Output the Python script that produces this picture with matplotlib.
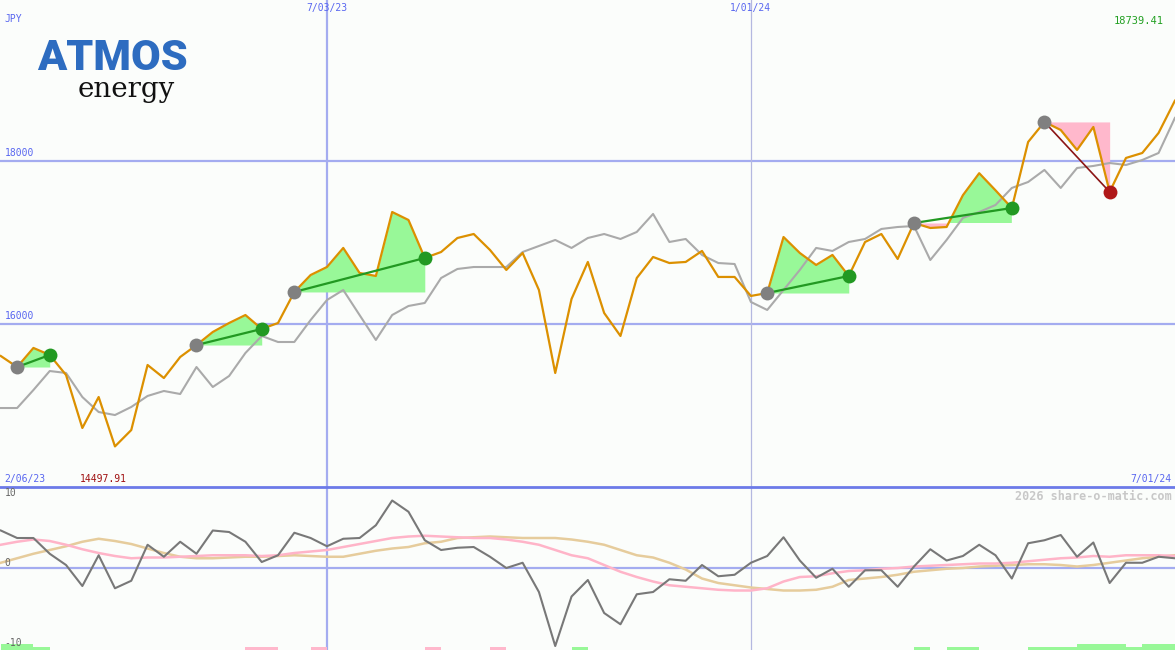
import numpy as np
import pandas as pd
import matplotlib
matplotlib.use('Agg')
import matplotlib.pyplot as plt
import matplotlib.dates as mdates


# weekly closes, Mondays
weeks = pd.date_range('2023-02-13', periods=73, freq='7D')

price = [15607, 15472, 15706, 15620, 15374, 14724, 15104, 14498, 14699, 15497,
         15337, 15595, 15742, 15902, 16012, 16110, 15939, 16012, 16393, 16601,
         16699, 16933, 16626, 16589, 17374, 17276, 16810, 16883, 17055, 17104,
         16908, 16663, 16871, 16417, 15399, 16307, 16761, 16135, 15853, 16564,
         16822, 16748, 16761, 16896, 16577, 16577, 16344, 16380, 17067, 16871,
         16724, 16847, 16589, 17006, 17104, 16798, 17239, 17178, 17190, 17580,
         17850, 17640, 17423, 18233, 18479, 18380, 18135, 18417, 17620, 18037,
         18098, 18344, 18739]

avg = [14969, 14969, 15190, 15423, 15399, 15104, 14920, 14883, 14982, 15117,
       15178, 15141, 15472, 15227, 15362, 15644, 15853, 15779, 15779, 16049,
       16294, 16417, 16110, 15804, 16110, 16221, 16258, 16564, 16675, 16699,
       16699, 16699, 16883, 16957, 17031, 16933, 17055, 17104, 17043, 17129,
       17350, 17006, 17043, 16847, 16748, 16736, 16270, 16172, 16417, 16663,
       16933, 16896, 17006, 17043, 17166, 17190, 17202, 16785, 17031, 17301,
       17374, 17460, 17669, 17742, 17890, 17669, 17914, 17939, 17975, 17951,
       18012, 18098, 18528]

osc = [5.0, 4.0, 4.0, 1.9, 0.4, -2.4, 1.7, -2.7, -1.7, 3.1,
       1.5, 3.5, 1.9, 5.0, 4.8, 3.5, 0.8, 1.7, 4.7, 4.0,
       2.9, 3.9, 4.0, 5.7, 9.0, 7.5, 3.7, 2.4, 2.7, 2.8,
       1.5, 0.0, 0.7, -3.2, -10.4, -3.8, -1.6, -6.0, -7.5, -3.5,
       -3.2, -1.5, -1.7, 0.4, -1.1, -0.9, 0.7, 1.6, 4.1, 1.0,
       -1.3, -0.1, -2.5, -0.3, -0.3, -2.5, 0.2, 2.5, 1.0, 1.6,
       3.1, 1.7, -1.4, 3.3, 3.7, 4.4, 1.5, 3.4, -2.0, 0.7,
       0.7, 1.5, 1.3]

osc_fast = [3.1, 3.5, 3.8, 3.6, 3.1, 2.5, 2.0, 1.6, 1.3, 1.4,
            1.4, 1.5, 1.6, 1.7, 1.7, 1.7, 1.6, 1.7, 2.0, 2.2,
            2.4, 2.8, 3.2, 3.6, 4.0, 4.2, 4.3, 4.2, 4.1, 4.0,
            4.0, 3.8, 3.5, 3.1, 2.4, 1.7, 1.3, 0.4, -0.5, -1.2,
            -1.8, -2.3, -2.5, -2.7, -2.9, -3.0, -3.0, -2.7, -1.8, -1.2,
            -1.1, -0.7, -0.4, -0.3, -0.1, 0.0, 0.2, 0.3, 0.4, 0.5,
            0.6, 0.6, 0.7, 0.9, 1.1, 1.3, 1.4, 1.6, 1.5, 1.7,
            1.7, 1.7, 1.6]

osc_slow = [0.7, 1.3, 1.9, 2.4, 2.9, 3.5, 3.9, 3.6, 3.2, 2.6,
            2.0, 1.5, 1.3, 1.3, 1.4, 1.5, 1.5, 1.6, 1.7, 1.6,
            1.5, 1.5, 1.9, 2.3, 2.6, 2.8, 3.3, 3.5, 4.0, 4.1,
            4.2, 4.1, 4.0, 4.0, 4.0, 3.8, 3.5, 3.1, 2.4, 1.7,
            1.4, 0.7, -0.2, -1.4, -2.0, -2.3, -2.6, -2.8, -3.0, -3.0,
            -2.9, -2.5, -1.6, -1.4, -1.2, -0.9, -0.5, -0.3, -0.1, 0.0,
            0.2, 0.3, 0.4, 0.5, 0.5, 0.4, 0.2, 0.4, 0.7, 1.0,
            1.3, 1.5, 1.7]

# trend signals: (start week, end week)
signals = [(1, 3), (12, 16), (18, 26), (47, 52), (56, 62), (64, 68)]

# small bars along the bottom: + green, - pink
bar_idx = [0, 1, 2, 15, 16, 19, 26, 30, 35, 56, 58, 59, 63, 64, 65, 66, 67, 68, 69, 70, 71]
bar_level = [2, 2, 1, -1, -1, -1, -1, -1, 1, 1, 1, 1, 1, 1, 1, 2, 2, 2, 1, 2, 2]

date_ticks = ['2023-07-03', '2024-01-01']
date_labels = ['7/03/23', '1/01/24']
price_ticks = [16000, 18000]
osc_ticks = [-10, 0, 10]

bg = '#fbfdfb'
grid = '#a4acf0'
blue_txt = '#5866f0'
mono = 'DejaVu Sans Mono'

x = mdates.date2num(weeks)
price = np.array(price, dtype=float)

fig = plt.figure(figsize=(11.75, 6.5), dpi=100, facecolor=bg)
ax = fig.add_axes([0, 163 / 650, 1, 487 / 650])
ax2 = fig.add_axes([0, 0, 1, 163 / 650])

for a in (ax, ax2):
    a.set_facecolor(bg)
    a.set_xlim(x[0] - 0.35, x[-1] + 0.05)
    a.set_xticks([])
    a.set_yticks([])
    for s in a.spines.values():
        s.set_visible(False)

ax.set_ylim(14000, 19975)
ax2.set_ylim(-10.93, 10.8)
ax2.spines['top'].set_visible(True)
ax2.spines['top'].set_color('#6c7ae8')
ax2.spines['top'].set_linewidth(2)

# grid
for v in price_ticks:
    ax.axhline(v, color=grid, lw=1.6, zorder=1)
    ax.text(0.004, v + 40, str(v), transform=ax.get_yaxis_transform(),
            fontsize=7, family=mono, color=blue_txt, va='bottom', ha='left')
ax2.axhline(0, color=grid, lw=1.6, zorder=1)

vl_width = [1.6, 0.9]
vl_color = [grid, '#b4b8e0']
for d, lab, w, c in zip(date_ticks, date_labels, vl_width, vl_color):
    dn = mdates.date2num(pd.Timestamp(d))
    ax.axvline(dn, color=c, lw=w, zorder=1)
    ax2.axvline(dn, color=c, lw=w, zorder=1)
    ax.text(dn, 1 - 8 / 487, lab, transform=ax.get_xaxis_transform(),
            fontsize=7, family=mono, color=blue_txt, ha='center', va='center')

# signal fills
for s, e in signals:
    xs = x[s:e + 1]
    ys = price[s:e + 1]
    base = price[s]
    ax.fill_between(xs, ys, base, where=ys >= base, interpolate=True,
                    color='#98f898', lw=0, zorder=2)
    ax.fill_between(xs, ys, base, where=ys <= base, interpolate=True,
                    color='#ffb8cc', lw=0, zorder=2)

ax.plot(x, avg, color='#aaaaaa', lw=1.5, zorder=3)
ax.plot(x, price, color='#dc9000', lw=1.6, zorder=4)

for s, e in signals:
    up = price[e] > price[s]
    lc = '#229922' if up else '#8b1515'
    dc = '#229922' if up else '#b01818'
    ax.plot([x[s], x[e]], [price[s], price[e]], color=lc, lw=1.6 if up else 1.2, zorder=5)
    ax.plot(x[s], price[s], 'o', color='#808080', ms=10, mec='none', zorder=6)
    ax.plot(x[e], price[e], 'o', color=dc, ms=10, mec='none', zorder=6)

# top panel labels
ax.text(0.004, 1 - 19 / 487, 'JPY', transform=ax.transAxes, fontsize=7,
        family=mono, color=blue_txt, va='center', ha='left')
ax.text(0.99, 1 - 21 / 487, '%.2f' % 18739.41, transform=ax.transAxes, fontsize=7.5,
        family=mono, color='#22a022', va='center', ha='right')
ax.text(0.004, 8 / 487, '2/06/23', transform=ax.transAxes, fontsize=7,
        family=mono, color=blue_txt, va='center', ha='left')
ax.text(80 / 1175, 8 / 487, '%.2f' % 14497.91, transform=ax.transAxes, fontsize=7,
        family=mono, color='#a01010', va='center', ha='left')
ax.text(0.997, 8 / 487, '7/01/24', transform=ax.transAxes, fontsize=7,
        family=mono, color=blue_txt, va='center', ha='right')

# logo
ax.text(37 / 1175, 1 - 70 / 487, 'ATMOS', transform=ax.transAxes, fontsize=31,
        family='Roboto', fontweight='black', color='#2d6cc0', va='baseline', ha='left')
ax.text(78 / 1175, 1 - 97 / 487, 'energy', transform=ax.transAxes, fontsize=20,
        family='DejaVu Serif', color='#111111', va='baseline', ha='left')

# bottom panel
ax2.plot(x, osc_slow, color='#e6cc9c', lw=1.8, zorder=3)
ax2.plot(x, osc_fast, color='#ffb4c8', lw=1.8, zorder=3)
ax2.plot(x, osc, color='#787878', lw=1.5, zorder=4)

lo = ax2.get_ylim()[0]
bx = x[bar_idx]
bh = [abs(v) * 0.4 for v in bar_level]
bc = ['#98f898' if v > 0 else '#ffb8cc' for v in bar_level]
ax2.bar(bx, bh, bottom=lo, width=7, align='edge', color=bc, lw=0, zorder=2)

for v in osc_ticks:
    ax2.text(0.004, v, str(v), transform=ax2.get_yaxis_transform(), fontsize=7,
             family=mono, color='#666666', ha='left',
             va='bottom' if v == 0 else 'center')
ax2.text(0.997, 1 - 9 / 163, '2026 share-o-matic.com', transform=ax2.transAxes,
         fontsize=8.5, family=mono, fontweight='bold', color='#c8c8c8',
         ha='right', va='center')

fig.savefig('out.png', dpi=100, facecolor=bg)
